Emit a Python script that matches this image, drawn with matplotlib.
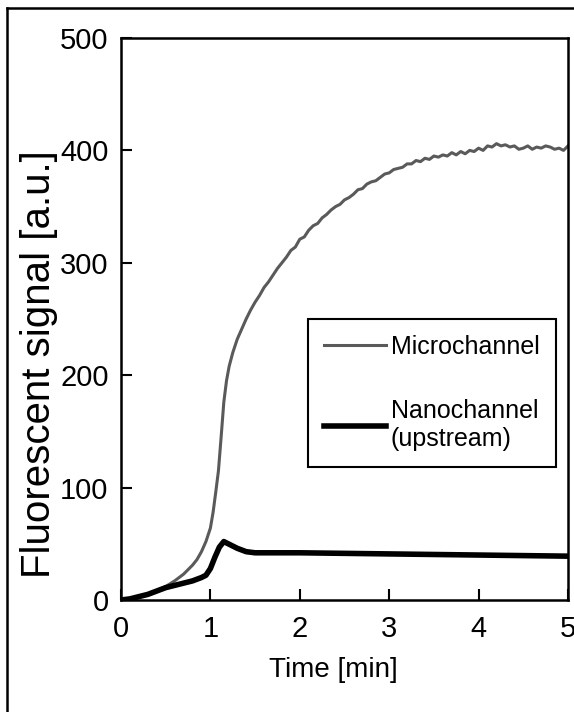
import matplotlib
matplotlib.use("Agg")
import matplotlib.pyplot as plt
from matplotlib.lines import Line2D

# ---- data ----
micro_t = [0.00, 0.10, 0.20, 0.30, 0.40, 0.50, 0.60, 0.70, 0.80, 0.85, 0.90, 0.95,
           1.00, 1.03, 1.06, 1.09, 1.12, 1.15, 1.18, 1.21, 1.25, 1.30, 1.35, 1.40,
           1.45, 1.50, 1.55, 1.60, 1.65, 1.70, 1.75, 1.80, 1.85, 1.90, 1.95, 2.00,
           2.05, 2.10, 2.15, 2.20, 2.25, 2.30, 2.35, 2.40, 2.45, 2.50, 2.55, 2.60,
           2.65, 2.70, 2.75, 2.80, 2.85, 2.90, 2.95, 3.00, 3.05, 3.10, 3.15, 3.20,
           3.25, 3.30, 3.35, 3.40, 3.45, 3.50, 3.55, 3.60, 3.65, 3.70, 3.75, 3.80,
           3.85, 3.90, 3.95, 4.00, 4.05, 4.10, 4.15, 4.20, 4.25, 4.30, 4.35, 4.40,
           4.45, 4.50, 4.55, 4.60, 4.65, 4.70, 4.75, 4.80, 4.85, 4.90, 4.95, 5.00]
micro_v = [0, 1, 3, 5, 8, 12, 17, 23, 31, 36, 43, 52,
           64, 78, 96, 115, 145, 176, 195, 208, 220, 232, 241, 250,
           258, 265, 271, 278, 283, 289, 295, 300, 305, 311, 314, 321,
           323, 329, 333, 335, 340, 343, 347, 350, 352, 356, 358, 361,
           365, 366, 370, 372, 373, 376, 379, 380, 383, 384, 385, 388,
           388, 391, 390, 393, 392, 395, 394, 396, 395, 398, 396, 399,
           397, 400, 399, 402, 400, 404, 403, 406, 404, 405, 403, 404,
           401, 402, 404, 401, 403, 402, 404, 403, 401, 402, 400, 404]

nano_t = [0, 0.1, 0.2, 0.3, 0.4, 0.5, 0.6, 0.7, 0.8, 0.9, 0.95, 1.0, 1.05, 1.1,
          1.15, 1.2, 1.3, 1.4, 1.5, 1.7, 2.0, 2.5, 3.0, 3.5, 4.0, 4.5, 5.0]
nano_v = [0, 1, 3, 5, 8, 11, 13, 15, 17, 20, 22, 28, 38, 47,
          52, 50, 46, 43, 42, 42, 42, 41.5, 41, 40.5, 40, 39.5, 39]

x_ticks = [0, 1, 2, 3, 4, 5]
y_ticks = [0, 100, 200, 300, 400, 500]
series_labels = ["Microchannel", "Nanochannel\n(upstream)"]
x_label = "Time [min]"
y_label = "Fluorescent signal [a.u.]"

REG = ["Liberation Sans", "DejaVu Sans"]

W, H = 574, 712
fig = plt.figure(figsize=(W / 100, H / 100), dpi=100)
fig.patch.set_facecolor("white")

L, R, T, B = 121, 568, 38, 600
ax = fig.add_axes([L / W, 1 - B / H, (R - L) / W, (B - T) / H])

ax.plot(micro_t, micro_v, color="#5a5a5a", lw=2.2, solid_joinstyle="round")
ax.plot(nano_t, nano_v, color="black", lw=4.0, solid_joinstyle="round",
        solid_capstyle="round")

ax.set_xlim(0, 5)
ax.set_ylim(0, 500)
ax.set_xticks(x_ticks)
ax.set_yticks(y_ticks)
ax.set_xticklabels([str(v) for v in x_ticks], family=REG, fontsize=21)
ax.set_yticklabels([str(v) for v in y_ticks], family=REG, fontsize=21)
ax.tick_params(direction="in", length=8, width=1.5, top=False, right=False)
ax.tick_params(axis="x", pad=11)
ax.tick_params(axis="y", pad=9)
for s in ax.spines.values():
    s.set_linewidth(1.8)

ax.set_xlabel(x_label, family=REG, fontsize=20)
ax.xaxis.set_label_coords((333 - L) / (R - L), (B - 657) / (B - T))
ax.set_ylabel(y_label, family=REG, fontsize=29)
ax.yaxis.set_label_coords((58 - L) / (R - L), (B - 364) / (B - T))

handles = [Line2D([], [], color="#5a5a5a", lw=2.2),
           Line2D([], [], color="black", lw=4.0)]
leg = ax.legend(handles, series_labels, loc="upper left",
                bbox_to_anchor=((308 - L) / (R - L), (B - 319) / (B - T)),
                prop={"family": REG, "size": 18}, frameon=True, fancybox=False,
                edgecolor="black", framealpha=1, borderpad=0.65,
                handlelength=2.45, handletextpad=0.22, labelspacing=1.6,
                borderaxespad=0)
leg.get_frame().set_linewidth(1.5)

# scanned page frame (top and left edges)
fig.add_artist(Line2D([7 / W, 7 / W], [0, 1 - 8 / H], color="black", lw=1.8,
                      transform=fig.transFigure))
fig.add_artist(Line2D([7 / W, 1], [1 - 8 / H, 1 - 8 / H], color="black", lw=1.8,
                      transform=fig.transFigure))

fig.savefig("out.png", dpi=100, facecolor="white")
